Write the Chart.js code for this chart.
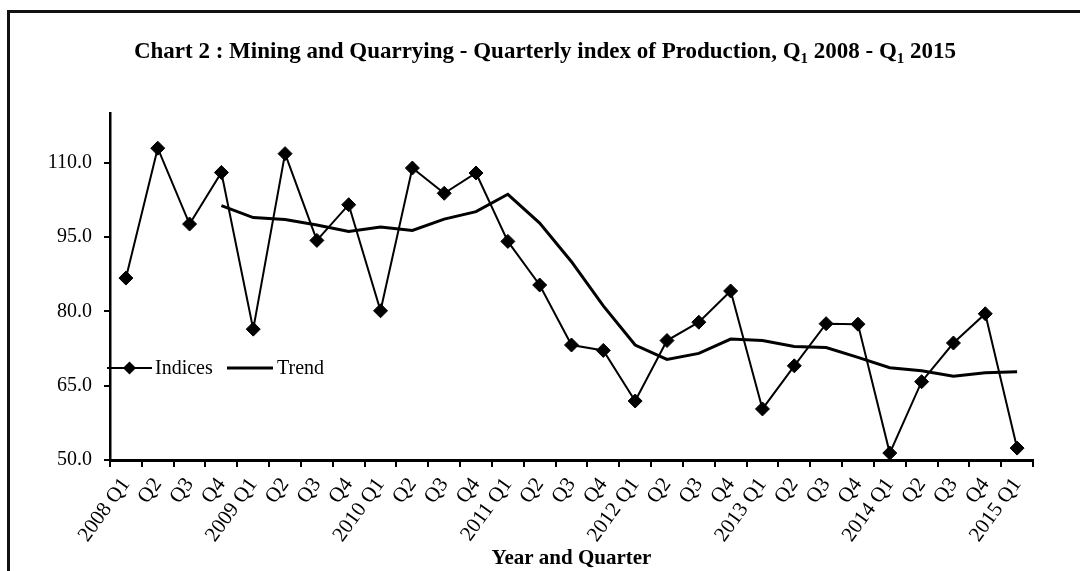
<!DOCTYPE html>
<html>
<head>
    <title>Mining and Quarrying - Quarterly index of Production</title>
    <script src="https://cdn.jsdelivr.net/npm/chart.js"></script>
    <style>
        body { margin: 0; background: #fff; overflow: hidden; }
        #frame { position: absolute; left: 7px; top: 10px; width: 1100px; height: 600px; border: 3px solid #111; }
        #prodChart { position: absolute; left: 0; top: 0; }
    </style>
</head>
<body>
    <div id="frame"></div>
    <canvas id="prodChart" width="1080" height="571"></canvas>

    <script>
        const quarters = [
            '2008 Q1', 'Q2', 'Q3', 'Q4',
            '2009 Q1', 'Q2', 'Q3', 'Q4',
            '2010 Q1', 'Q2', 'Q3', 'Q4',
            '2011 Q1', 'Q2', 'Q3', 'Q4',
            '2012 Q1', 'Q2', 'Q3', 'Q4',
            '2013 Q1', 'Q2', 'Q3', 'Q4',
            '2014 Q1', 'Q2', 'Q3', 'Q4',
            '2015 Q1'
        ];
        const indices = [
            86.7, 112.9, 97.6, 108.0,
            76.4, 111.8, 94.3, 101.5,
            80.1, 108.9, 103.8, 107.9,
            94.1, 85.3, 73.2, 72.1,
            61.9, 74.1, 77.8, 84.1,
            60.3, 69.0, 77.5, 77.4,
            51.4, 65.8, 73.6, 79.5,
            52.4
        ];
        const trend = [
            null, null, null, 101.3,
            98.9, 98.5, 97.4, 96.1,
            97.0, 96.3, 98.6, 100.1,
            103.6, 97.8, 90.0, 81.1,
            73.2, 70.3, 71.5, 74.4,
            74.1, 72.9, 72.7, 70.7,
            68.6, 68.0, 66.9, 67.6,
            67.8
        ];
        const yTicks = [50, 65, 80, 95, 110];

        const serif = '"Liberation Serif", "Times New Roman", serif';

        // title with subscripts, drawn by hand
        const titleParts = [
            ['Chart 2 : Mining and Quarrying - Quarterly index of Production, Q', false],
            ['1', true],
            [' 2008 - Q', false],
            ['1', true],
            [' 2015', false]
        ];

        const titlePlugin = {
            id: 'subTitle',
            afterDraw(chart) {
                const ctx = chart.ctx;
                const big = 'bold 23px ' + serif;
                const small = 'bold 15px ' + serif;
                ctx.save();
                ctx.fillStyle = '#000';
                ctx.textBaseline = 'alphabetic';
                ctx.textAlign = 'left';
                let total = 0;
                titleParts.forEach(p => {
                    ctx.font = p[1] ? small : big;
                    total += ctx.measureText(p[0]).width;
                });
                let x = 545 - total / 2;
                titleParts.forEach(p => {
                    ctx.font = p[1] ? small : big;
                    ctx.fillText(p[0], x, p[1] ? 63 : 58);
                    x += ctx.measureText(p[0]).width;
                });
                ctx.restore();
            }
        };

        // legend sits inside the plot, left side
        const legendPlugin = {
            id: 'innerLegend',
            afterDraw(chart) {
                const ctx = chart.ctx;
                const ds = chart.data.datasets;
                const y = 368;
                ctx.save();
                ctx.strokeStyle = '#000';
                ctx.fillStyle = '#000';
                ctx.font = '20px ' + serif;
                ctx.textBaseline = 'middle';

                ctx.lineWidth = 2;
                ctx.beginPath();
                ctx.moveTo(107, y);
                ctx.lineTo(152, y);
                ctx.stroke();
                ctx.beginPath();
                ctx.moveTo(129.5, y - 6.5);
                ctx.lineTo(136, y);
                ctx.lineTo(129.5, y + 6.5);
                ctx.lineTo(123, y);
                ctx.closePath();
                ctx.fill();
                ctx.fillText(ds[0].label, 155, y + 1);

                ctx.lineWidth = 3;
                ctx.beginPath();
                ctx.moveTo(227, y);
                ctx.lineTo(273, y);
                ctx.stroke();
                ctx.fillText(ds[1].label, 277, y + 1);
                ctx.restore();
            }
        };

        const ctx = document.getElementById('prodChart').getContext('2d');
        new Chart(ctx, {
            type: 'line',
            data: {
                labels: quarters,
                datasets: [{
                    label: 'Indices',
                    data: indices,
                    borderColor: '#000',
                    backgroundColor: '#000',
                    borderWidth: 2,
                    pointStyle: 'rectRot',
                    pointRadius: 7,
                    pointBorderWidth: 1,
                    tension: 0
                }, {
                    label: 'Trend',
                    data: trend,
                    borderColor: '#000',
                    borderWidth: 3,
                    pointRadius: 0,
                    tension: 0
                }]
            },
            options: {
                responsive: false,
                animation: false,
                devicePixelRatio: 1,
                layout: { padding: { top: 113, right: 47, left: 0, bottom: 0 } },
                plugins: {
                    legend: { display: false },
                    title: { display: false },
                    tooltip: { enabled: false }
                },
                scales: {
                    x: {
                        offset: true,
                        afterFit: s => { s.height = 111; },
                        grid: {
                            offset: true,
                            drawOnChartArea: false,
                            drawTicks: true,
                            tickLength: 7,
                            color: '#000',
                            lineWidth: 2
                        },
                        border: { display: true, color: '#000', width: 3 },
                        ticks: {
                            autoSkip: false,
                            minRotation: 54,
                            maxRotation: 54,
                            color: '#000',
                            padding: 6,
                            font: { family: serif, size: 21 }
                        },
                        title: {
                            display: true,
                            text: 'Year and Quarter',
                            color: '#000',
                            padding: { top: 0, bottom: 0 },
                            font: { family: serif, size: 21, weight: 'bold' }
                        }
                    },
                    y: {
                        min: 50,
                        max: 120,
                        afterFit: s => { s.width = 110; },
                        afterBuildTicks: s => { s.ticks = yTicks.map(v => ({ value: v })); },
                        grid: {
                            drawOnChartArea: false,
                            drawTicks: true,
                            tickLength: 6,
                            color: '#000',
                            lineWidth: 2
                        },
                        border: { display: true, color: '#000', width: 2.5 },
                        ticks: {
                            color: '#000',
                            padding: 12,
                            font: { family: serif, size: 20 },
                            callback: v => Number(v).toFixed(1)
                        }
                    }
                }
            },
            plugins: [titlePlugin, legendPlugin]
        });
    </script>
</body>
</html>
